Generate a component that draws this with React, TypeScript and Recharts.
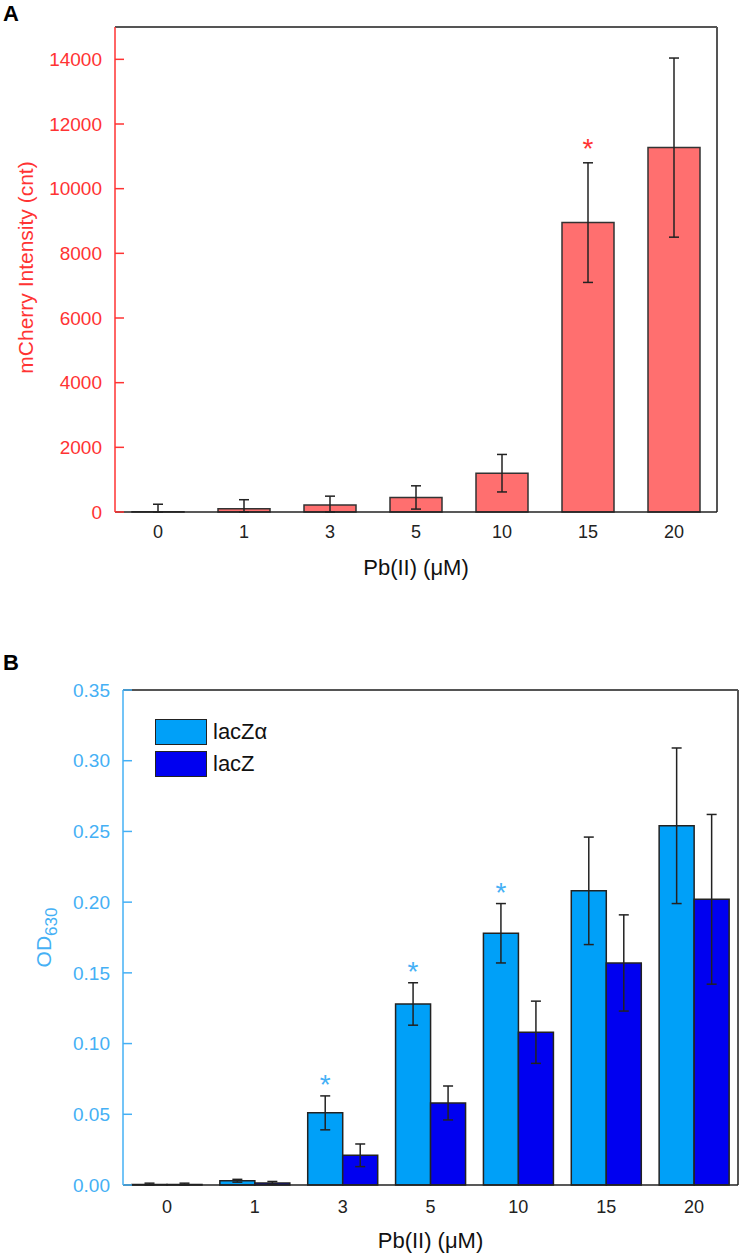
import { BarChart, Bar, XAxis, YAxis, ErrorBar, LabelList, Legend, CartesianGrid } from 'recharts';

const concentrations = ['0', '1', '3', '5', '10', '15', '20'];

// panel A: mCherry fluorescence
const mCherry = [10, 100, 220, 450, 1200, 8950, 11270];
const mCherryErr = [230, 280, 270, 360, 580, 1850, 2770];
const mCherrySig = [false, false, false, false, false, true, false];
const mCherryTicks = [0, 2000, 4000, 6000, 8000, 10000, 12000, 14000];

// panel B: OD630
const lacZAlpha = [0.0003, 0.003, 0.051, 0.128, 0.178, 0.208, 0.254];
const lacZAlphaErr = [0.001, 0.001, 0.012, 0.015, 0.021, 0.038, 0.055];
const lacZAlphaSig = [false, false, true, true, true, false, false];
const lacZ = [0.0003, 0.0015, 0.021, 0.058, 0.108, 0.157, 0.202];
const lacZErr = [0.001, 0.001, 0.008, 0.012, 0.022, 0.034, 0.06];
const odTicks = [0, 0.05, 0.1, 0.15, 0.2, 0.25, 0.3, 0.35];
const seriesOrder = ['lacZα', 'lacZ'];

const FONT = '"Liberation Sans", Arial, sans-serif';
const RED = '#ff3333';
const BLUE = '#45b0f5';

// error below zero is cut at the axis
const clipErr = (v: number, e: number) => [Math.min(v, e), e];

const dataA = concentrations.map((c, i) => ({
  conc: c,
  mcherry: mCherry[i],
  err: clipErr(mCherry[i], mCherryErr[i]),
}));

const dataB = concentrations.map((c, i) => ({
  conc: c,
  alpha: lacZAlpha[i],
  alphaErr: clipErr(lacZAlpha[i], lacZAlphaErr[i]),
  full: lacZ[i],
  fullErr: clipErr(lacZ[i], lacZErr[i]),
}));

// asterisk above the error bar of flagged bars
const star = (sig: boolean[], vals: number[], errs: number[], color: string, gap: number) => (props: any) => {
  const { x, y, width, height, value } = props;
  const i = concentrations.indexOf(String(value));
  if (i < 0 || !sig[i]) return null;
  const errPx = (Math.abs(height) * errs[i]) / vals[i];
  return (
    <text x={x + width / 2} y={y - errPx - gap} textAnchor="middle" fill={color} fontSize={28} fontFamily={FONT}>
      *
    </text>
  );
};

const xTitle = (props: any) => {
  const { viewBox } = props;
  return (
    <text x={viewBox.x + viewBox.width / 2} y={viewBox.y + 63} textAnchor="middle" fill="#111" fontSize={22} fontFamily={FONT}>
      Pb(II) (μM)
    </text>
  );
};

// frame lines: top and right edges of the plot
const topEdge = ({ offset }: any) => [offset.top];
const rightEdge = ({ offset }: any) => [offset.left + offset.width];

function PanelLabel({ text, top }: { text: string; top: number }) {
  return (
    <div style={{ position: 'absolute', left: 3, top, fontFamily: FONT, fontWeight: 'bold', fontSize: 22, lineHeight: '22px' }}>
      {text}
    </div>
  );
}

const legendContent = (props: any) => {
  const items = seriesOrder.map((n) => props.payload.find((p: any) => p.value === n)).filter(Boolean);
  return (
    <div>
      {items.map((p: any) => (
        <div key={p.value} style={{ display: 'flex', alignItems: 'center', height: 32 }}>
          <div style={{ width: 50, height: 24, background: p.color, border: '1.5px solid #222' }} />
          <span style={{ marginLeft: 6, fontSize: 22, fontFamily: FONT, color: '#111' }}>{p.value}</span>
        </div>
      ))}
    </div>
  );
};

export default function App() {
  return (
    <div style={{ position: 'absolute', left: 0, top: 0, width: 742, height: 1254, background: '#fff' }}>
      <PanelLabel text="A" top={3} />
      <div style={{ position: 'absolute', left: 0, top: 0 }}>
        <BarChart width={742} height={600} data={dataA} margin={{ top: 27, right: 25, bottom: 0, left: 0 }}>
          <CartesianGrid
            stroke="#555"
            strokeWidth={2}
            horizontalCoordinatesGenerator={topEdge}
            verticalCoordinatesGenerator={rightEdge}
          />
          <XAxis
            dataKey="conc"
            height={88}
            tickLine={false}
            tickSize={0}
            tickMargin={13}
            axisLine={{ stroke: '#222', strokeWidth: 1.5 }}
            tick={{ fill: '#222', fontSize: 18, fontFamily: FONT }}
            label={{ content: xTitle }}
          />
          <YAxis
            width={115}
            domain={[0, 15000]}
            ticks={mCherryTicks}
            interval={0}
            tickSize={-9}
            tickMargin={22}
            tickLine={{ stroke: RED, strokeWidth: 1.5 }}
            axisLine={{ stroke: RED, strokeWidth: 1.5 }}
            tick={{ fill: RED, fontSize: 19, fontFamily: FONT }}
            label={{
              content: (p: any) => {
                const vb = p.viewBox;
                const cx = vb.x + 26;
                const cy = vb.y + vb.height / 2 - 2;
                return (
                  <text x={cx} y={cy} transform={`rotate(-90 ${cx} ${cy})`} textAnchor="middle" dy="0.35em" fill={RED} fontSize={21} fontFamily={FONT}>
                    mCherry Intensity (cnt)
                  </text>
                );
              },
            }}
          />
          <Bar dataKey="mcherry" fill="#ff6f6f" stroke="#333" strokeWidth={1.5} barSize={52} isAnimationActive={false}>
            <ErrorBar dataKey="err" width={5} stroke="#222" strokeWidth={1.5} />
            <LabelList dataKey="conc" content={star(mCherrySig, mCherry, mCherryErr, RED, 5)} />
          </Bar>
        </BarChart>
      </div>

      <PanelLabel text="B" top={652} />
      <div style={{ position: 'absolute', left: 0, top: 620 }}>
        <BarChart width={742} height={634} data={dataB} margin={{ top: 70, right: 4, bottom: 0, left: 0 }} barGap={0}>
          <CartesianGrid
            stroke="#555"
            strokeWidth={2}
            horizontalCoordinatesGenerator={topEdge}
            verticalCoordinatesGenerator={rightEdge}
          />
          <XAxis
            dataKey="conc"
            height={69}
            tickLine={false}
            tickSize={0}
            tickMargin={15}
            axisLine={{ stroke: '#222', strokeWidth: 1.5 }}
            tick={{ fill: '#222', fontSize: 18, fontFamily: FONT }}
            label={{ content: xTitle }}
          />
          <YAxis
            width={123}
            domain={[0, 0.35]}
            ticks={odTicks}
            interval={0}
            tickSize={-9}
            tickMargin={22}
            tickFormatter={(v: number) => v.toFixed(2)}
            tickLine={{ stroke: BLUE, strokeWidth: 1.5 }}
            axisLine={{ stroke: BLUE, strokeWidth: 1.5 }}
            tick={{ fill: BLUE, fontSize: 19, fontFamily: FONT }}
            label={{
              content: (p: any) => {
                const vb = p.viewBox;
                const cx = vb.x + 44;
                const cy = vb.y + vb.height / 2;
                return (
                  <text x={cx} y={cy} transform={`rotate(-90 ${cx} ${cy})`} textAnchor="middle" dy="0.35em" fill={BLUE} fontSize={21} fontFamily={FONT}>
                    <tspan>OD</tspan>
                    <tspan dy={6} fontSize={17}>630</tspan>
                  </text>
                );
              },
            }}
          />
          <Legend
            layout="vertical"
            align="center"
            verticalAlign="middle"
            content={legendContent}
            wrapperStyle={{ left: 155, top: 96, width: 'auto' }}
          />
          <Bar dataKey="alpha" name="lacZα" fill="#00a0f8" stroke="#222" strokeWidth={1.5} barSize={35} isAnimationActive={false}>
            <ErrorBar dataKey="alphaErr" width={5} stroke="#222" strokeWidth={1.5} />
            <LabelList dataKey="conc" content={star(lacZAlphaSig, lacZAlpha, lacZAlphaErr, BLUE, 2)} />
          </Bar>
          <Bar dataKey="full" name="lacZ" fill="#0000f0" stroke="#222" strokeWidth={1.5} barSize={35} isAnimationActive={false}>
            <ErrorBar dataKey="fullErr" width={5} stroke="#222" strokeWidth={1.5} />
          </Bar>
        </BarChart>
      </div>
    </div>
  );
}
